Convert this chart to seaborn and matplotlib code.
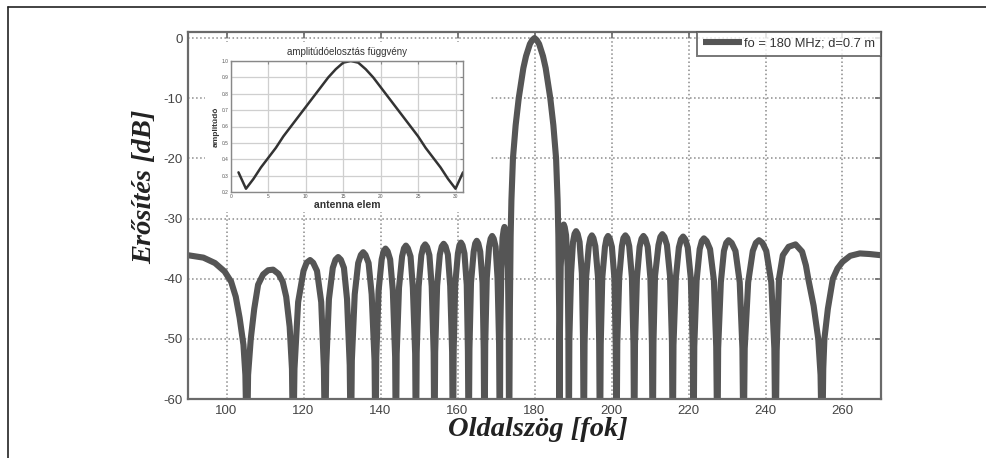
import matplotlib
matplotlib.use("Agg")
import matplotlib.pyplot as plt
from matplotlib.patches import Rectangle
from matplotlib.lines import Line2D
import seaborn as sns
import pandas as pd

# Main pattern (angle in deg, gain in dB).
# Nulls are given as -70 so they run off the bottom of the axis like in the original.
angle_deg = [
    90.0, 94.0, 97.0, 99.5, 101.2, 102.4, 103.4, 104.4, 104.9,
    105.3, 105.6, 106.3, 107.2, 108.2, 109.5, 110.8, 112.1, 113.5, 114.6, 115.5, 116.4, 117.0,
    117.3, 117.65, 118.6, 120.0, 120.8, 121.7, 122.5, 123.5, 124.6, 125.3,
    125.6, 125.9, 126.6, 127.6, 128.3, 129.0, 129.7, 130.5, 131.3, 132.0,
    132.3, 132.55, 133.3, 134.2, 134.9, 135.5, 136.1, 136.9, 137.7, 138.45,
    138.7, 138.9, 139.5, 140.3, 140.8, 141.3, 141.85, 142.5, 143.2, 143.8,
    144.0, 144.2, 144.8, 145.6, 146.1, 146.6, 147.1, 147.8, 148.4, 149.0,
    149.2, 149.4, 149.9, 150.6, 151.1, 151.6, 152.1, 152.7, 153.3, 153.8,
    154.0, 154.2, 154.7, 155.4, 155.9, 156.4, 156.9, 157.5, 158.1, 158.6,
    158.8, 159.0, 159.4, 160.1, 160.5, 160.9, 161.3, 161.8, 162.4, 162.7,
    162.9, 163.1, 163.5, 164.2, 164.6, 165.0, 165.4, 165.9, 166.5, 166.8,
    167.0, 167.2, 167.6, 168.2, 168.6, 169.0, 169.4, 169.9, 170.4, 170.8,
    171.0, 171.1, 171.4, 171.7, 172.0, 172.2, 172.45, 172.7, 173.1, 173.3,
    173.4, 173.6, 173.8, 174.0, 174.4, 175.1, 175.9, 177.1, 177.8, 178.8, 179.4,
    180.0, 180.6, 181.2, 182.2, 182.9, 184.1, 184.9, 185.6, 186.0, 186.2, 186.4,
    186.5, 186.6, 186.8, 187.2, 187.4, 187.6, 187.85, 188.2, 188.6, 188.8,
    188.9, 189.05, 189.5, 190.0, 190.4, 190.8, 191.2, 191.7, 192.3, 192.6,
    192.8, 193.0, 193.4, 194.1, 194.5, 194.9, 195.3, 195.8, 196.5, 196.8,
    197.0, 197.2, 197.6, 198.3, 198.7, 199.1, 199.55, 200.1, 200.75, 201.1,
    201.3, 201.5, 202.0, 202.7, 203.1, 203.6, 204.1, 204.6, 205.3, 205.7,
    205.9, 206.1, 206.6, 207.3, 207.8, 208.3, 208.8, 209.4, 210.1, 210.5,
    210.7, 210.9, 211.3, 212.2, 212.7, 213.2, 213.75, 214.4, 215.2, 215.7,
    215.9, 216.1, 216.7, 217.5, 218.05, 218.6, 219.15, 219.8, 220.6, 221.1,
    221.3, 221.5, 222.1, 222.9, 223.45, 224.0, 224.7, 225.6, 226.6, 227.2,
    227.5, 227.7, 228.4, 229.2, 229.8, 230.4, 231.2, 232.2, 233.3, 234.0,
    234.3, 234.6, 235.5, 236.7, 237.5, 238.3, 239.2, 240.2, 241.5, 242.3,
    242.6, 242.9, 243.5, 244.5, 246.0, 247.8, 249.5, 250.5, 251.1, 252.5, 253.7, 254.3,
    254.7, 255.0, 255.3, 256.2, 257.5, 258.7, 260.0, 262.0, 264.5, 267.0, 270.0,
]
gain_db = [
    -36.1, -36.5, -37.4, -38.8, -40.5, -43.0, -46.5, -51.0, -56.0,
    -70, -56, -50, -45, -41, -39.3, -38.6, -38.5, -39.2, -40.5, -43, -48, -55,
    -70, -55, -43.9, -38.7, -37.35, -36.9, -37.35, -38.7, -43.9, -55,
    -70, -54.4, -43.4, -38.2, -36.85, -36.4, -36.85, -38.2, -43.4, -54.4,
    -70, -53.6, -42.6, -37.4, -36.05, -35.6, -36.05, -37.4, -42.6, -53.6,
    -70, -53, -42, -36.8, -35.45, -35.0, -35.45, -36.8, -42, -53,
    -70, -52.5, -41.5, -36.3, -34.95, -34.5, -34.95, -36.3, -41.5, -52.5,
    -70, -52.3, -41.3, -36.1, -34.75, -34.3, -34.75, -36.1, -41.3, -52.3,
    -70, -52.2, -41.2, -36.0, -34.65, -34.2, -34.65, -36.0, -41.2, -52.2,
    -70, -52, -41, -35.8, -34.45, -34.0, -34.45, -35.8, -41, -52,
    -70, -51.7, -40.7, -35.5, -34.15, -33.7, -34.15, -35.5, -40.7, -51.7,
    -70, -50.9, -39.9, -34.7, -33.35, -32.9, -33.35, -34.7, -39.9, -50.9,
    -70, -49.4, -38.4, -33.2, -31.85, -31.4, -31.85, -33.2, -38.4, -49.4,
    -70, -45, -33, -27, -20, -14.5, -10, -5, -3, -1, -0.35,
    0, -0.35, -1, -3, -5, -10, -14.5, -20, -27, -33, -45,
    -70, -49, -38, -32.8, -31.45, -31.0, -31.45, -32.8, -38, -49,
    -70, -50.1, -39.1, -33.9, -32.55, -32.1, -32.55, -33.9, -39.1, -50.1,
    -70, -50.8, -39.8, -34.6, -33.25, -32.8, -33.25, -34.6, -39.8, -50.8,
    -70, -50.9, -39.9, -34.7, -33.35, -32.9, -33.35, -34.7, -39.9, -50.9,
    -70, -50.8, -39.8, -34.6, -33.25, -32.8, -33.25, -34.6, -39.8, -50.8,
    -70, -50.9, -39.9, -34.7, -33.35, -32.9, -33.35, -34.7, -39.9, -50.9,
    -70, -50.6, -39.6, -34.4, -33.05, -32.6, -33.05, -34.4, -39.6, -50.6,
    -70, -51, -40, -34.8, -33.45, -33.0, -33.45, -34.8, -40, -51,
    -70, -51.3, -40.3, -35.1, -33.75, -33.3, -33.75, -35.1, -40.3, -51.3,
    -70, -51.6, -40.6, -35.4, -34.05, -33.6, -34.05, -35.4, -40.6, -51.6,
    -70, -51.6, -40.6, -35.4, -34.05, -33.6, -34.05, -35.4, -40.6, -51.6,
    -70, -52, -40, -36.1, -34.7, -34.3, -35.5, -37.8, -40, -44.5, -50, -56,
    -70, -55, -50, -45, -40, -38.3, -37.2, -36.2, -35.8, -35.9, -36.1,
]
assert len(angle_deg) == len(gain_db)

# Inset: amplitude taper over the antenna elements
elements = list(range(1, 32))
amplitude = [
    0.32, 0.22, 0.28, 0.35, 0.41, 0.47, 0.54, 0.60, 0.66, 0.72, 0.78, 0.84, 0.90, 0.95, 0.99, 1.00,
    0.99, 0.95, 0.90, 0.84, 0.78, 0.72, 0.66, 0.60, 0.54, 0.47, 0.41, 0.35, 0.28, 0.22, 0.32,
]

x_ticks = [100, 120, 140, 160, 180, 200, 220, 240, 260]
y_ticks = [0, -10, -20, -30, -40, -50, -60]
inset_x_ticks = [0, 5, 10, 15, 20, 25, 30]
inset_y_ticks = [0.2, 0.3, 0.4, 0.5, 0.6, 0.7, 0.8, 0.9, 1.0]

legend_label = "fo = 180 MHz; d=0.7 m"

sns.set_style("white")
plt.rcParams["font.family"] = ["Liberation Sans", "DejaVu Sans"]
plt.rcParams["axes.unicode_minus"] = False

LINE = "#555555"
SPINE = "#6a6a6a"

fig = plt.figure(figsize=(9.87, 4.58), dpi=100)
ax = fig.add_axes([0.1905, 0.1288, 0.7021, 0.8013])

df = pd.DataFrame({"angle": angle_deg, "gain": gain_db})
sns.lineplot(data=df, x="angle", y="gain", ax=ax, color=LINE, linewidth=4.4,
             estimator=None, sort=False, label=legend_label)
for ln in ax.get_lines():
    ln.set_solid_joinstyle("round")
    ln.set_solid_capstyle("butt")

ax.set_xlim(90, 270)
ax.set_ylim(-60, 1)
ax.set_xticks(x_ticks)
ax.set_yticks(y_ticks)
ax.grid(True, linestyle=":", color="#8a8a8a", linewidth=1.1)
ax.tick_params(direction="in", length=4, width=1.2, color=SPINE,
               top=True, right=True, labelsize=9.5, labelcolor="#444444", pad=4)
for sp in ax.spines.values():
    sp.set_color(SPINE)
    sp.set_linewidth(1.6)
ax.set_xlabel("")
ax.set_ylabel("")

leg = ax.legend(loc="upper right", borderaxespad=0.0, fontsize=9.3, frameon=True,
                fancybox=False, edgecolor="#555555", handlelength=3.0,
                handletextpad=0.2, borderpad=0.45)
leg.get_frame().set_linewidth(1.4)
for t in leg.get_texts():
    t.set_color("#333333")

# axis titles, bold italic serif as in the original
fig.text(538 / 987, 1 - 436 / 458, "Oldalszög [fok]", ha="center", va="baseline",
         fontsize=20.5, fontweight="bold", style="italic", family="Liberation Serif",
         color="#222222")
fig.text(145 / 987, 1 - 187 / 458, "Erősítés [dB]", ha="center", va="center",
         rotation=90, fontsize=20.5, fontweight="bold", style="italic",
         family="Liberation Serif", color="#222222")

# white patch behind the inset, hides the main grid there
fig.add_artist(Rectangle((205 / 987, 1 - 212 / 458), 285 / 987, 170 / 458,
                         transform=fig.transFigure, facecolor="white",
                         edgecolor="none", zorder=3))

axins = fig.add_axes([231 / 987, 1 - 192 / 458, 232 / 987, 131 / 458], zorder=4)
sns.lineplot(x=elements, y=amplitude, ax=axins, color="#333333", linewidth=1.8,
             estimator=None, sort=False)
axins.set_xlim(0, 31)
axins.set_ylim(0.2, 1.0)
axins.set_xticks(inset_x_ticks)
axins.set_yticks(inset_y_ticks)
axins.grid(True, color="#cfcfcf", linewidth=0.9)
axins.tick_params(direction="in", length=2, labelsize=3.5, labelcolor="#555555",
                  pad=1.5, top=True, right=True, color="#888888")
for sp in axins.spines.values():
    sp.set_color("#888888")
    sp.set_linewidth(1.0)
axins.set_title("amplitúdóelosztás függvény", fontsize=7, color="#333333", pad=4)
axins.set_xlabel("antenna elem", fontsize=7.5, fontweight="bold", color="#333333", labelpad=1)
axins.set_ylabel("amplitúdó", fontsize=6, fontweight="bold", color="#333333", labelpad=2)

# outer frame of the picture (left and top edges are visible)
fig.add_artist(Line2D([8 / 987, 8 / 987], [0, 1 - 7 / 458], transform=fig.transFigure,
                      color="#222222", linewidth=1.2))
fig.add_artist(Line2D([8 / 987, 1], [1 - 7 / 458, 1 - 7 / 458], transform=fig.transFigure,
                      color="#222222", linewidth=1.2))

fig.savefig("out.png", dpi=100)
